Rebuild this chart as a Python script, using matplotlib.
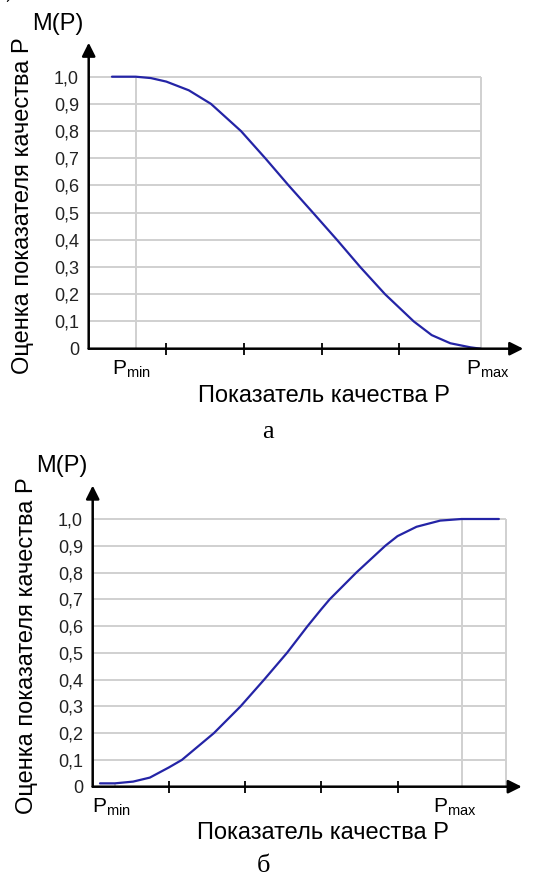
import matplotlib.pyplot as plt

plt.rcParams['font.family'] = ['Liberation Sans', 'DejaVu Sans']

W, H = 533, 881

# values
y_ticks = [0, 0.1, 0.2, 0.3, 0.4, 0.5, 0.6, 0.7, 0.8, 0.9, 1.0]
y_tick_labels = ["0", "0,1", "0,2", "0,3", "0,4", "0,5", "0,6", "0,7", "0,8", "0,9", "1,0"]
x_ticks = [1, 2, 3, 4]

# chart а: decreasing
a_x = [0.30, 0.606, 0.80, 1.0, 1.29, 1.576, 1.963, 2.276, 2.577, 2.89, 3.20, 3.50,
       3.82, 4.19, 4.42, 4.66, 4.92, 5.05]
a_y = [1.0, 1.0, 0.995, 0.982, 0.95, 0.9, 0.8, 0.7, 0.6, 0.5, 0.4, 0.3,
       0.2, 0.1, 0.05, 0.02, 0.005, 0.0]
a_pmin, a_pmax, a_right = 0.606, 5.05, 5.05

# chart б: increasing
b_x = [0.096, 0.29, 0.53, 0.75, 1.0, 1.17, 1.59, 1.94, 2.25, 2.55, 2.82, 3.0,
       3.11, 3.46, 3.84, 4.0, 4.25, 4.56, 4.84, 5.33]
b_y = [0.0125, 0.0125, 0.019, 0.034, 0.072, 0.1, 0.2, 0.3, 0.4, 0.5, 0.6, 0.663,
       0.7, 0.8, 0.9, 0.936, 0.971, 0.994, 1.0, 1.0]
b_pmin, b_pmax, b_right = 0.29, 4.84, 5.42

blue = '#2424a6'
grid = '#d0d0d0'

fig = plt.figure(figsize=(W / 100, H / 100), dpi=100)


def px(x, y):
    return x / W, 1 - y / H


def draw(x0, y0, ux, uy, xmax, xs, ys, pmin, pmax, right, pmin_top, pmax_line,
         pmin_dx, pmax_dx):
    ymax = 1.14
    left, bottom = px(x0, y0)
    ax = fig.add_axes([left, bottom, xmax * ux / W, ymax * uy / H])
    ax.set_xlim(0, xmax)
    ax.set_ylim(0, ymax)
    for s in ax.spines.values():
        s.set_visible(False)

    # grid
    ax.hlines(y_ticks[1:], 0, right, color=grid, lw=1.4, zorder=1)
    ax.vlines(right, 0, 1.0, color=grid, lw=1.4, zorder=1)
    ax.vlines(pmin, 0, pmin_top, color=grid, lw=1.4, zorder=1)
    if pmax_line:
        ax.vlines(pmax, 0, 1.0, color=grid, lw=1.4, zorder=1)

    ax.plot(xs, ys, color=blue, lw=1.6, zorder=3, solid_capstyle='round',
            solid_joinstyle='round')

    # axes with arrows
    arrow = dict(arrowstyle='-|>', color='black', lw=1.8, mutation_scale=20,
                 shrinkA=0, shrinkB=0)
    ax.annotate('', xy=(xmax - 0.02, 0), xytext=(0, 0), annotation_clip=False,
                arrowprops=arrow, zorder=4)
    ax.annotate('', xy=(0, 1.125), xytext=(0, 0), annotation_clip=False,
                arrowprops=arrow, zorder=4)

    ax.set_xticks(x_ticks)
    ax.set_xticklabels([])
    ax.tick_params(axis='x', direction='inout', length=8, width=1.3, color='black')
    ax.set_yticks(y_ticks)
    ax.set_yticklabels(y_tick_labels, fontsize=13, color='#222222')
    ax.tick_params(axis='y', length=0, pad=7)

    ax.text(pmin + pmin_dx, -0.035, r'P$_{\mathregular{min}}$', ha='center', va='top',
            fontsize=15)
    ax.text(pmax + pmax_dx, -0.035, r'P$_{\mathregular{max}}$', ha='center', va='top',
            fontsize=15)
    return ax


draw(88.7, 348.7, 77.6, 272, 5.62, a_x, a_y, a_pmin, a_pmax, a_right, 1.0, False,
     -0.06, 0.09)
draw(92.7, 786.7, 76.2, 267.7, 5.65, b_x, b_y, b_pmin, b_pmax, b_right, 0.0125, True,
     -0.04, -0.09)

# axis titles
for (xl, yl), (xy, yy), (mx, my) in [((324, 396), (23, 206), (58, 24)),
                                     ((323, 833), (27, 646), (62, 466))]:
    fig.text(*px(xl, yl), 'Показатель качества Р', ha='center', va='center', fontsize=17)
    fig.text(*px(xy, yy), 'Оценка показателя качества Р', rotation=90,
             ha='center', va='center', fontsize=17)
    fig.text(*px(mx, my), 'M(P)', ha='center', va='center', fontsize=17)

fig.text(*px(268, 432), 'а', ha='center', va='center', fontsize=19,
         family=['Liberation Serif', 'DejaVu Serif'])
fig.text(*px(264, 866), 'б', ha='center', va='center', fontsize=19,
         family=['Liberation Serif', 'DejaVu Serif'])
fig.text(*px(7, 9), 'ˊ', ha='center', va='center', fontsize=13)

fig.savefig('out.png', dpi=100)
